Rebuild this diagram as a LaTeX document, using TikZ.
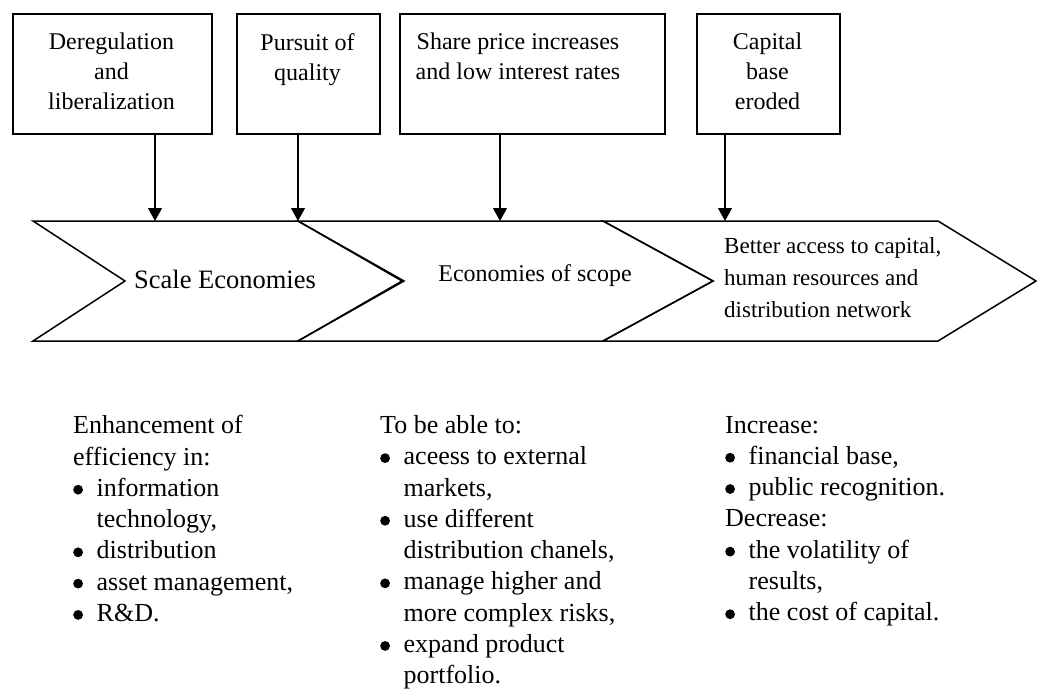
\documentclass[tikz,border=0pt]{standalone}
\usepackage{fontspec}
\setmainfont{Liberation Serif}
\usetikzlibrary{arrows.meta}
\newcommand{\bul}{\makebox[23.5pt][l]{\tikz[baseline={(0,0)}, x=1pt, y=1pt]\fill (4.9,6.6) circle[radius=4.9];}}
\newcommand{\ind}{\hspace*{23.5pt}}
\begin{document}
\begin{tikzpicture}[x=1pt,y=-1pt,
  box/.style={draw, line width=1.5pt, inner sep=0pt, anchor=north west, minimum height=120pt},
  btext/.style={font=\fontsize{24}{30}\selectfont, align=center, inner sep=0pt, anchor=north},
  chev/.style={draw, line width=1.5pt, line join=miter},
  arr/.style={line width=1.2pt, -{Triangle[width=14pt,length=13pt]}},
  ltext/.style={font=\fontsize{26}{31.3}\selectfont, align=left, inner sep=0pt, anchor=north west}]
\useasboundingbox (0,0) rectangle (1037,691);

% top boxes
\node[box, minimum width=199pt] (b1) at (12,13) {};
\node[box, minimum width=143pt] (b2) at (236,13) {};
\node[box, minimum width=265pt] (b3) at (399,13) {};
\node[box, minimum width=143pt] (b4) at (696,13) {};

\node[btext] (t1) at (111.5,33) {Deregulation\\and\\liberalization};
\node[btext] (t2) at (307.5,33) {Pursuit of\\quality};
\node[btext] (t3) at (518,33) {Share price increases\\and low interest rates};
\node[btext] (t4) at (767.5,33) {Capital\\base\\eroded};

% arrow targets on the chevron top edge
\coordinate (c1) at (155,221);
\coordinate (c2) at (298,221);
\coordinate (c3) at (500,221);
\coordinate (c4) at (725,221);

% chevrons
\draw[chev] (33,221) -- (298,221) -- (404,281) -- (298,341) -- (33,341) -- (125,281) -- cycle;
\draw[chev] (298,221) -- (603,221) -- (713,281) -- (603,341) -- (298,341) -- (402,281) -- cycle;
\draw[chev] (603,221) -- (938,221) -- (1036,281) -- (938,341) -- (603,341) -- (713,281) -- cycle;

% arrows
\draw[arr] (b1.south -| c1) -- (c1);
\draw[arr] (b2.south -| c2) -- (c2);
\draw[arr] (b3.south -| c3) -- (c3);
\draw[arr] (b4.south -| c4) -- (c4);

% chevron labels
\node[font=\fontsize{26.5}{30}\selectfont, inner sep=0pt] (s1) at (225,279) {Scale Economies};
\node[font=\fontsize{24}{30}\selectfont, inner sep=0pt] (s2) at (535,276) {Economies of scope};
\node[font=\fontsize{23}{32}\selectfont, align=left, inner sep=0pt, anchor=north west] (s3) at (724,237.5)
  {Better access to capital,\\human resources and\\distribution network};

% bottom texts
\node[ltext] (l1) at (73,415.2) {Enhancement of\\efficiency in:\\\bul information\\\ind technology,\\\bul distribution\\\bul asset management,\\\bul R\&D.};
\node[ltext] (l2) at (380,415.2) {To be able to:\\\bul aceess to external\\\ind markets,\\\bul use different\\\ind distribution chanels,\\\bul manage higher and\\\ind more complex risks,\\\bul expand product\\\ind portfolio.};
\node[ltext] (l3) at (725,415.8) {Increase:\\\bul financial base,\\\bul public recognition.\\Decrease:\\\bul the volatility of\\\ind results,\\\bul the cost of capital.};
\end{tikzpicture}
\end{document}
